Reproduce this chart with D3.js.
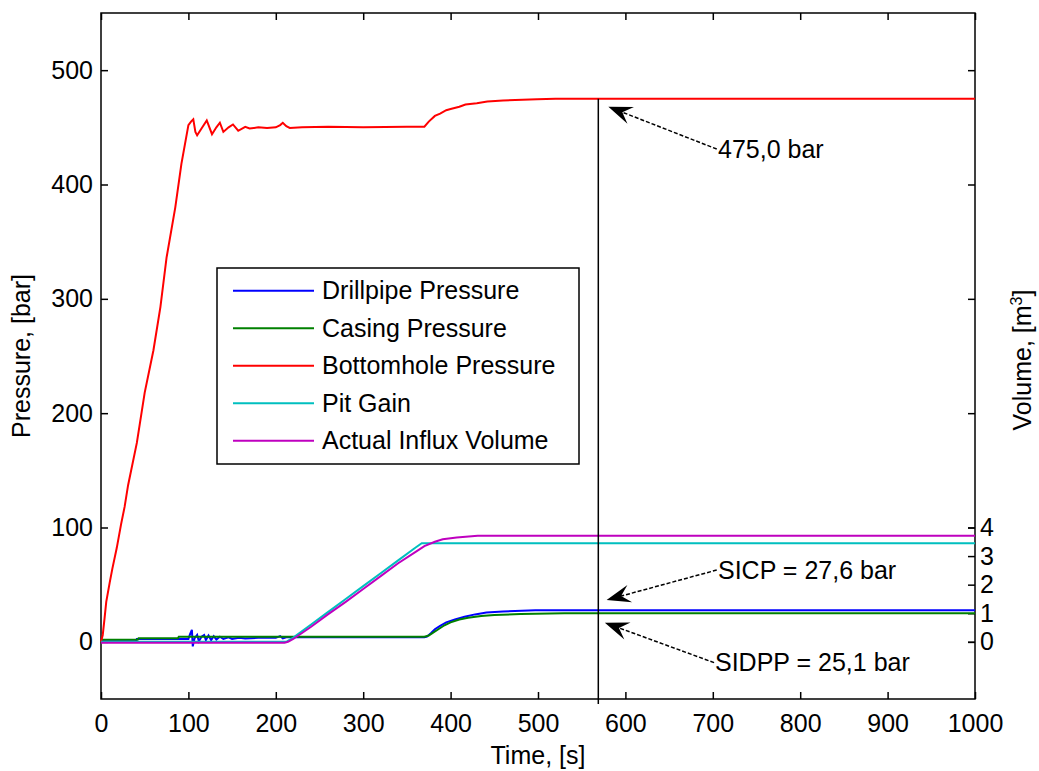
<!DOCTYPE html>
<html>
<head>
<meta charset="utf-8">
<script src="https://cdn.jsdelivr.net/npm/d3@7/dist/d3.min.js"></script>
<style>
  body { margin: 0; background: #fff; }
  text { font-family: "Liberation Sans", Arial, sans-serif; fill: #000; }
</style>
</head>
<body>
<svg id="chart" width="1039" height="771"></svg>
<script>
// ---- Well-control simulation: shut-in after a kick ----
const seriesNames  = ["Drillpipe Pressure", "Casing Pressure", "Bottomhole Pressure", "Pit Gain", "Actual Influx Volume"];
const seriesColors = ["#0000ff", "#008000", "#ff0000", "#00bfbf", "#bf00bf"];

// Drillpipe pressure [bar]
const drillpipeTime  = [0, 40, 41, 100, 102, 104, 105, 107, 110, 112, 115, 118, 120, 123, 126, 129, 132, 136, 140, 146, 150, 158, 165, 180, 200, 205, 208, 212, 370, 373, 378, 382, 388, 395, 405, 416, 428, 441, 460, 497, 1000];
const drillpipeValue = [0.5, 0.5, 2.5, 2.5, 7, 10.5, -4, 3, 6, 0.5, 4.5, 6, 1.5, 5.5, 1.5, 5, 2, 4.5, 2.5, 4, 2.5, 3.5, 3, 3.5, 3.5, 5, 3, 4, 4, 4.5, 8, 11, 14, 17, 19.5, 22, 24, 25.6, 26.6, 27.6, 27.6];

// Casing pressure [bar]
const casingTime  = [0, 42, 43, 88, 89, 370, 375, 380, 386, 393, 400, 410, 420, 435, 450, 480, 530, 1000];
const casingValue = [1.8, 1.8, 3.2, 3.2, 4.5, 4.5, 5.5, 8, 11, 14.5, 17, 19.5, 21, 22.5, 23.5, 24.3, 25.1, 25.1];

// Bottomhole pressure [bar]
const bottomholeTime  = [0, 2, 4, 6, 10, 13, 18, 23, 27, 31, 41, 50, 60, 68, 75, 85, 92, 100, 103, 105.6, 108, 110, 115, 121, 127, 132, 136, 140, 146, 151, 157, 165, 170, 180, 190, 200, 205, 208, 212, 216, 230, 260, 300, 350, 370, 375, 382, 388, 395, 400, 410, 417, 430, 442, 460, 499, 520, 1000];
const bottomholeValue = [0, 6, 20, 35, 52, 64, 82, 103, 118, 137, 174, 218, 255, 293, 336, 380, 418, 452, 455, 457, 446, 443, 449, 456, 444, 450, 454, 446, 450, 452.5, 447, 450.5, 449, 450, 449.5, 450, 452, 454, 451, 449.5, 450, 450.5, 450, 450.5, 450.5, 455, 460, 462, 465, 466, 468, 470, 471, 472.5, 473.5, 474.5, 475.0, 475.0];

// Pit gain [m3]
const pitGainTime  = [0, 205, 212, 220, 240, 260, 280, 300, 320, 340, 360, 367, 1000];
const pitGainValue = [0, 0, 0, 0.15, 0.6, 1.05, 1.5, 1.95, 2.4, 2.85, 3.3, 3.45, 3.45];

// Actual influx volume [m3]
const influxTime  = [0, 210, 214, 220, 240, 260, 280, 300, 320, 340, 360, 370, 382, 391, 407, 431, 1000];
const influxValue = [-0.03, -0.03, 0, 0.1, 0.52, 0.97, 1.4, 1.85, 2.3, 2.75, 3.15, 3.35, 3.5, 3.59, 3.65, 3.71, 3.71];

// Axes
const timeTicks     = [0, 100, 200, 300, 400, 500, 600, 700, 800, 900, 1000];
const pressureTicks = [0, 100, 200, 300, 400, 500];
const volumeTicks   = [0, 1, 2, 3, 4];
const shutInReadTime = 569;   // time at which the shut-in pressures are read

const svg = d3.select("#chart");
const W = 1039, H = 771;
const plot = { left: 101, right: 975, top: 13, bottom: 699 };

const x    = d3.scaleLinear().domain([0, 1000]).range([plot.left, plot.right]);
const y    = d3.scaleLinear().domain([-50, 550]).range([plot.bottom, plot.top]);
const yVol = d3.scaleLinear().domain([-2, 22]).range([plot.bottom, plot.top]);

svg.append("rect").attr("width", W).attr("height", H).attr("fill", "#fff");

// ---- axes (ticks pointing inward, box around the plot) ----
const fontSize = 25;
function styleAxis(g) {
  g.select(".domain").remove();
  g.selectAll(".tick line").attr("stroke", "#000").attr("stroke-width", 1.5);
  g.selectAll(".tick text").style("font-size", fontSize + "px").attr("fill", "#000");
}

svg.append("g")
  .attr("transform", `translate(0,${plot.bottom})`)
  .call(d3.axisBottom(x).tickValues(timeTicks).tickSizeInner(-7).tickSizeOuter(0).tickPadding(15).tickFormat(d3.format("d")))
  .call(styleAxis);

svg.append("g")
  .attr("transform", `translate(0,${plot.top})`)
  .call(d3.axisTop(x).tickValues(timeTicks).tickSizeInner(-7).tickSizeOuter(0).tickFormat(""))
  .call(styleAxis);

svg.append("g")
  .attr("transform", `translate(${plot.left},0)`)
  .call(d3.axisLeft(y).tickValues(pressureTicks).tickSizeInner(-7).tickSizeOuter(0).tickPadding(8).tickFormat(d3.format("d")))
  .call(styleAxis);

svg.append("g")
  .attr("transform", `translate(${plot.right},0)`)
  .call(d3.axisRight(y).tickValues(pressureTicks).tickSizeInner(-7).tickSizeOuter(0).tickFormat(""))
  .call(styleAxis);

svg.append("g")
  .attr("transform", `translate(${plot.right},0)`)
  .call(d3.axisRight(yVol).tickValues(volumeTicks).tickSizeInner(-7).tickSizeOuter(0).tickPadding(5).tickFormat(d3.format("d")))
  .call(styleAxis);

svg.append("rect")
  .attr("x", plot.left).attr("y", plot.top)
  .attr("width", plot.right - plot.left).attr("height", plot.bottom - plot.top)
  .attr("fill", "none").attr("stroke", "#000").attr("stroke-width", 1.5);

// ---- axis titles ----
svg.append("text")
  .attr("x", (plot.left + plot.right) / 2).attr("y", 764)
  .attr("text-anchor", "middle").style("font-size", fontSize + "px")
  .text("Time, [s]");

svg.append("text")
  .attr("transform", `translate(30,${(plot.top + plot.bottom) / 2}) rotate(-90)`)
  .attr("text-anchor", "middle").style("font-size", fontSize + "px")
  .text("Pressure, [bar]");

const volTitle = svg.append("text")
  .attr("transform", `translate(1031,${(plot.top + plot.bottom) / 2 + 4}) rotate(-90)`)
  .attr("text-anchor", "middle").style("font-size", fontSize + "px");
volTitle.append("tspan").text("Volume, [m");
volTitle.append("tspan").attr("dy", -9).style("font-size", "16px").text("3");
volTitle.append("tspan").attr("dy", 9).text("]");

// ---- series ----
const pressureLine = d3.line().x(d => x(d[0])).y(d => y(d[1]));
const volumeLine   = d3.line().x(d => x(d[0])).y(d => yVol(d[1]));
const zip = (t, v) => t.map((ti, i) => [ti, v[i]]);

const series = [
  { data: zip(drillpipeTime, drillpipeValue),   gen: pressureLine, color: seriesColors[0] },
  { data: zip(casingTime, casingValue),         gen: pressureLine, color: seriesColors[1] },
  { data: zip(bottomholeTime, bottomholeValue), gen: pressureLine, color: seriesColors[2] },
  { data: zip(pitGainTime, pitGainValue),       gen: volumeLine,   color: seriesColors[3] },
  { data: zip(influxTime, influxValue),         gen: volumeLine,   color: seriesColors[4] }
];

svg.append("g").selectAll("path")
  .data(series)
  .join("path")
  .attr("d", s => s.gen(s.data))
  .attr("fill", "none")
  .attr("stroke", s => s.color)
  .attr("stroke-width", 2)
  .attr("stroke-linejoin", "miter");

// ---- vertical read-off line ----
const bhpFinal  = bottomholeValue[bottomholeValue.length - 1];
const sicp      = drillpipeValue[drillpipeValue.length - 1];
const sidpp     = casingValue[casingValue.length - 1];

svg.append("line")
  .attr("x1", x(shutInReadTime)).attr("x2", x(shutInReadTime))
  .attr("y1", y(bhpFinal)).attr("y2", plot.bottom + 5)
  .attr("stroke", "#000").attr("stroke-width", 1.5);

// ---- annotations with arrows ----
const fmt = v => d3.format(".1f")(v).replace(".", ",");

function arrow(tail, tip) {
  const [x1, y1] = tail, [x2, y2] = tip;
  const ang = Math.atan2(y2 - y1, x2 - x1);
  const len = 24, half = 9, notch = 15;
  const ux = Math.cos(ang), uy = Math.sin(ang);
  const px = -uy, py = ux;
  const bx = x2 - ux * len, by = y2 - uy * len;
  const nx = x2 - ux * notch, ny = y2 - uy * notch;
  svg.append("line")
    .attr("x1", x1).attr("y1", y1).attr("x2", nx).attr("y2", ny)
    .attr("stroke", "#000").attr("stroke-width", 1.5)
    .attr("stroke-dasharray", "4,2");
  svg.append("path")
    .attr("d", `M${x2},${y2}L${bx + px * half},${by + py * half}L${nx},${ny}L${bx - px * half},${by - py * half}Z`)
    .attr("fill", "#000");
}

const notes = [
  { text: `${fmt(bhpFinal)} bar`,         tail: [704.5, 431],  tip: [580.5, 468],  tx: 718, ty: 158 },
  { text: `SICP = ${fmt(sicp)} bar`,      tail: [704.5, 62.8], tip: [578.5, 36.6], tx: 718, ty: 579 },
  { text: `SIDPP = ${fmt(sidpp)} bar`,    tail: [701.5, -18.2], tip: [576.5, 16.7], tx: 715, ty: 671 }
];

notes.forEach(n => {
  arrow([x(n.tail[0]), y(n.tail[1])], [x(n.tip[0]), y(n.tip[1])]);
  svg.append("text")
    .attr("x", n.tx).attr("y", n.ty)
    .style("font-size", fontSize + "px")
    .text(n.text);
});

// ---- legend ----
const legend = svg.append("g").attr("transform", "translate(217,268)");
legend.append("rect")
  .attr("width", 362).attr("height", 196)
  .attr("fill", "#fff").attr("stroke", "#000").attr("stroke-width", 1.5);

const rows = legend.selectAll("g.row")
  .data(seriesNames)
  .join("g")
  .attr("class", "row")
  .attr("transform", (d, i) => `translate(0,${22.7 + i * 37.5})`);

rows.append("line")
  .attr("x1", 16).attr("x2", 97)
  .attr("stroke", (d, i) => seriesColors[i]).attr("stroke-width", 2);

rows.append("text")
  .attr("x", 105).attr("dy", "0.35em")
  .style("font-size", fontSize + "px")
  .text(d => d);
</script>
</body>
</html>
